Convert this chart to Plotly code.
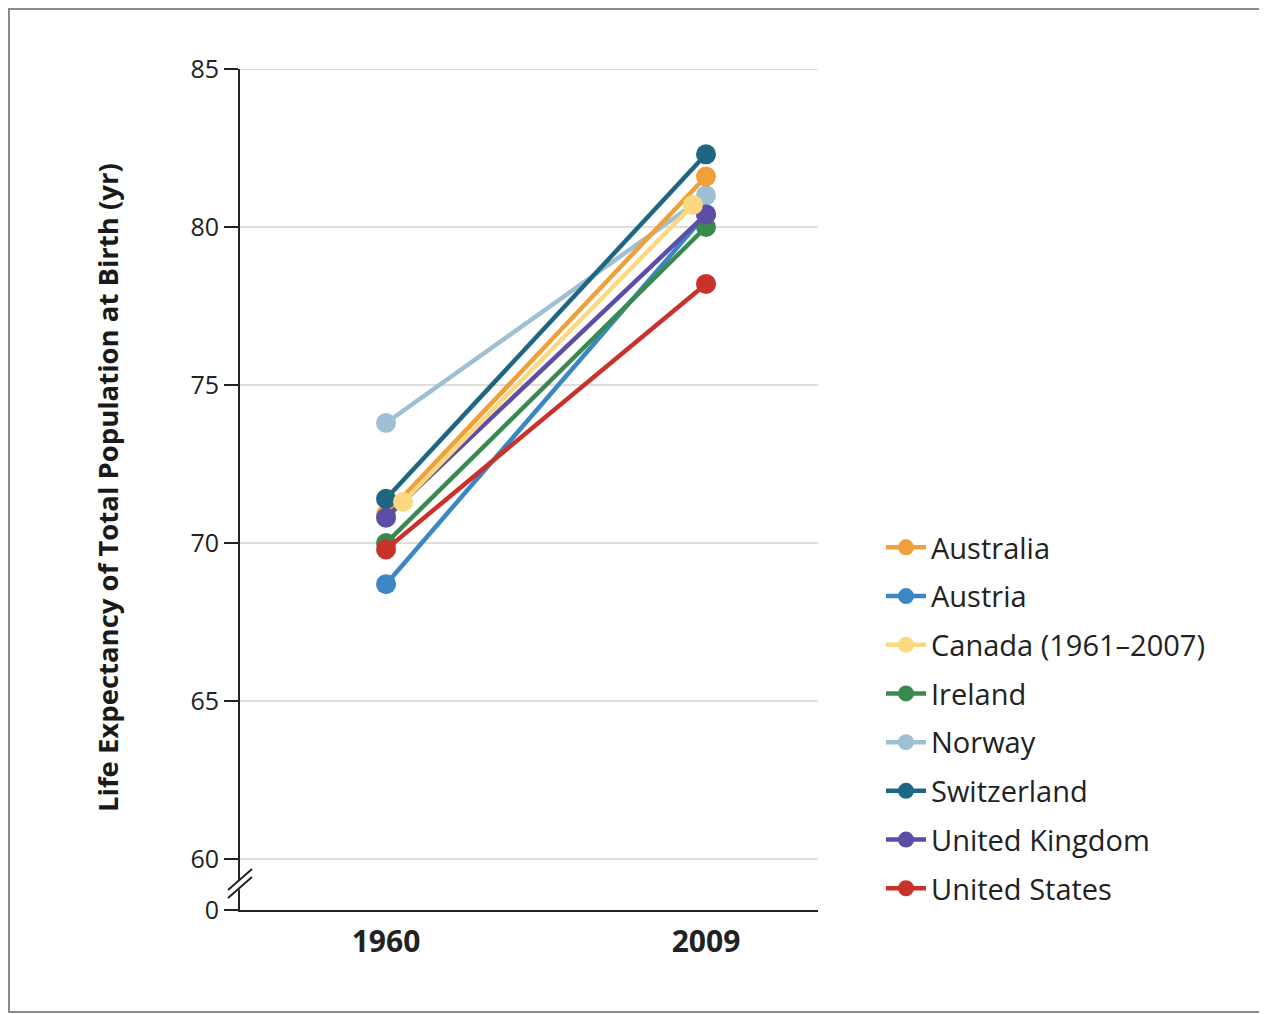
import plotly.graph_objects as go

countries = ["Australia", "Austria", "Canada (1961\u20132007)", "Ireland", "Norway",
             "Switzerland", "United Kingdom", "United States"]
colors = ["#f0a03a", "#3b87c6", "#fcd880", "#3a8a50", "#9fbfd4",
          "#1f6682", "#5c4ea6", "#c9322b"]
x_years = [1960, 2009]
canada_x = [1962.6, 2007.0]   # Canada points drawn slightly inset (1961 and 2007)
val_start = [70.9, 68.7, 71.3, 70.0, 73.8, 71.4, 70.8, 69.8]
val_end = [81.6, 80.4, 80.7, 80.0, 81.0, 82.3, 80.4, 78.2]
draw_order = [4, 1, 3, 7, 0, 6, 5, 2]

y_ticks = [60, 65, 70, 75, 80, 85]
y_zero_pos = 58.39
x_range = [1937.64, 2026.15]

FONT = "Open Sans"
fig = go.Figure()
for i in draw_order:
    xs = canada_x if i == 2 else x_years
    fig.add_trace(go.Scatter(
        x=xs, y=[val_start[i], val_end[i]], mode="lines+markers", name=countries[i],
        line=dict(color=colors[i], width=4.5), marker=dict(color=colors[i], size=20),
        legendrank=i + 1, legendgroup=countries[i], cliponaxis=False))

# light gridlines (60..85)
for v in y_ticks:
    fig.add_shape(type="line", xref="paper", yref="y", x0=0, x1=1, y0=v, y1=v,
                  line=dict(color="#d3d3d3", width=1.5), layer="below")

# page-pixel helpers (figure sits 8px inside the page)
px = lambda p: (p - 240) / 578.0
py = lambda p: (910 - p) / 841.0
def yv(p):
    return 85 - (p - 69) / 31.6

# axis break marks
fig.add_shape(type="path", xref="paper", yref="y",
              path=f"M {px(229)} {yv(890)} L {px(251)} {yv(870)} L {px(252)} {yv(878)} L {px(230)} {yv(898)} Z",
              fillcolor="white", line=dict(width=0))
for off in (0, 8):
    fig.add_shape(type="line", xref="paper", yref="y",
                  x0=px(228), y0=yv(890 + off), x1=px(252), y1=yv(869 + off),
                  line=dict(color="#222", width=2))

# outer frame
fig.add_shape(type="rect", xref="paper", yref="paper",
              x0=px(9), x1=px(1265), y0=py(1012), y1=py(9),
              line=dict(color="#8a8a8a", width=2))

fig.add_annotation(text="<b>Life Expectancy of Total Population at Birth (yr)</b>",
                   xref="paper", yref="paper", x=px(107), y=py(488), textangle=-90,
                   xanchor="center", yanchor="middle",
                   showarrow=False, font=dict(family=FONT, size=27.5, color="#1a1a1a"))

fig.update_layout(
    width=1259, height=1006, paper_bgcolor="white", plot_bgcolor="white",
    margin=dict(l=232, r=449, t=61, b=104),
    font=dict(family=FONT, color="#222"),
    xaxis=dict(range=x_range, tickvals=x_years, ticktext=["<b>1960</b>", "<b>2009</b>"],
               showgrid=False, zeroline=False, showline=True, linecolor="#222", linewidth=2,
               ticks="", tickfont=dict(size=30, color="#222"), ticklabelstandoff=4),
    yaxis=dict(range=[y_zero_pos, 85], tickvals=[y_zero_pos] + y_ticks,
               ticktext=["0"] + [str(v) for v in y_ticks],
               showgrid=False, zeroline=False, showline=True, linecolor="#222", linewidth=2,
               ticks="outside", ticklen=14, tickwidth=2, tickcolor="#222",
               tickfont=dict(size=25, color="#222")),
    legend=dict(x=px(881), y=py(522), xanchor="left", yanchor="top",
                font=dict(family=FONT, size=29, color="#222"), traceorder="grouped",
                tracegroupgap=8, itemwidth=40, bgcolor="rgba(0,0,0,0)"),
)
fig.write_html("out.html")
